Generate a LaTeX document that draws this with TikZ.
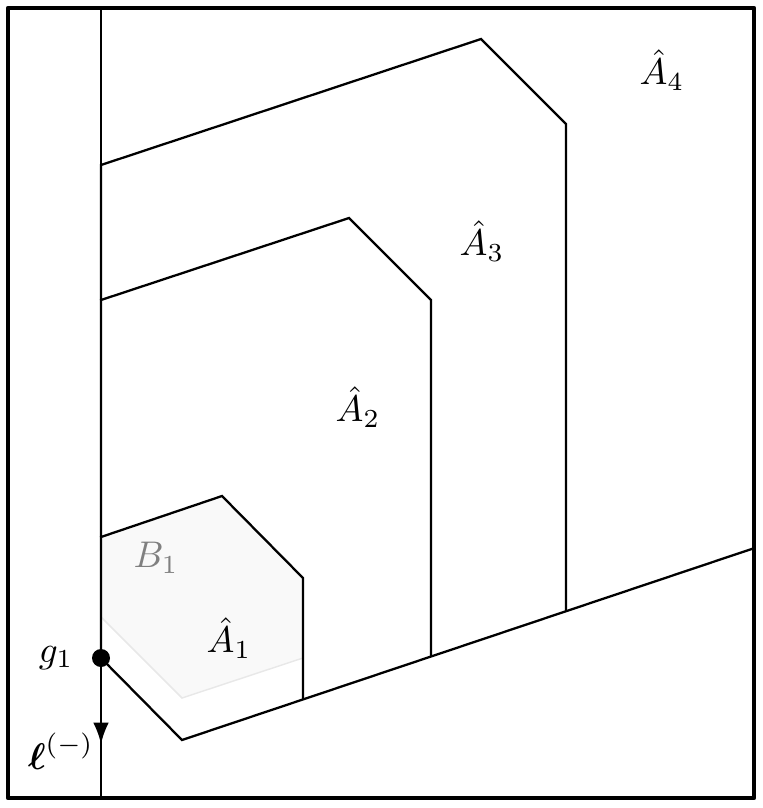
\documentclass[tikz,border=0pt]{standalone}
\usepackage{amsmath,amssymb}
\usetikzlibrary{arrows.meta}
\begin{document}
\begin{tikzpicture}[x=0.35pt,y=-0.35pt,
  region/.style={line width=0.8pt, line join=miter},
  frame/.style={line width=1.5pt, line join=round},
  lline/.style={line width=0.45pt},
  lbl/.style={inner sep=0pt, scale=1.3}]
\useasboundingbox (0,0) rectangle (762,808);
% shaded B1
\fill[gray!5] (101,537) -- (222,496) -- (303,578) -- (303,658) -- (182,698) -- (101,617) -- cycle;
\draw[gray!18, line width=0.5pt] (101,617) -- (182,698) -- (303,658);
% coordinates
\coordinate (ltop) at (101,8);
\coordinate (lbot) at (101,798);
\coordinate (g) at (101,658);
\coordinate (c) at (182,740);
\coordinate (e) at (754,548.2);
% line ell
\draw[lline] (ltop) -- (lbot);
\draw[region, -{Latex[length=7.5pt,width=5.5pt]}] (g) -- (101,744);
\draw[region] (101,744) -- (lbot);
% bottom boundary
\draw[region] (g) -- (c) -- (e);
% A1
\draw[region] (101,658) -- (101,537) -- (222,496) -- (303,578) -- (303,699.4);
% A2
\draw[region] (101,537) -- (101,300) -- (349,218) -- (431,300) -- (431,656.4);
% A3
\draw[region] (101,300) -- (101,165) -- (481,39) -- (566,124) -- (566,611);
% frame
\draw[frame] (8,8) rectangle (754,798);
% g1 point
\fill (g) circle (9);
% labels
\node[lbl] (a4) at (662,70) {$\hat{A}_4$};
\node[lbl] (a3) at (482,241) {$\hat{A}_3$};
\node[lbl] (a2) at (358,407) {$\hat{A}_2$};
\node[lbl] (a1) at (229,638) {$\hat{A}_1$};
\node[lbl, text=gray] (b1) at (156,558) {$B_1$};
\node[lbl] (g1) at (56,658) {$g_1$};
\node[lbl] (ell) at (61,751) {$\boldsymbol{\ell}^{(-)}$};
\end{tikzpicture}
\end{document}
